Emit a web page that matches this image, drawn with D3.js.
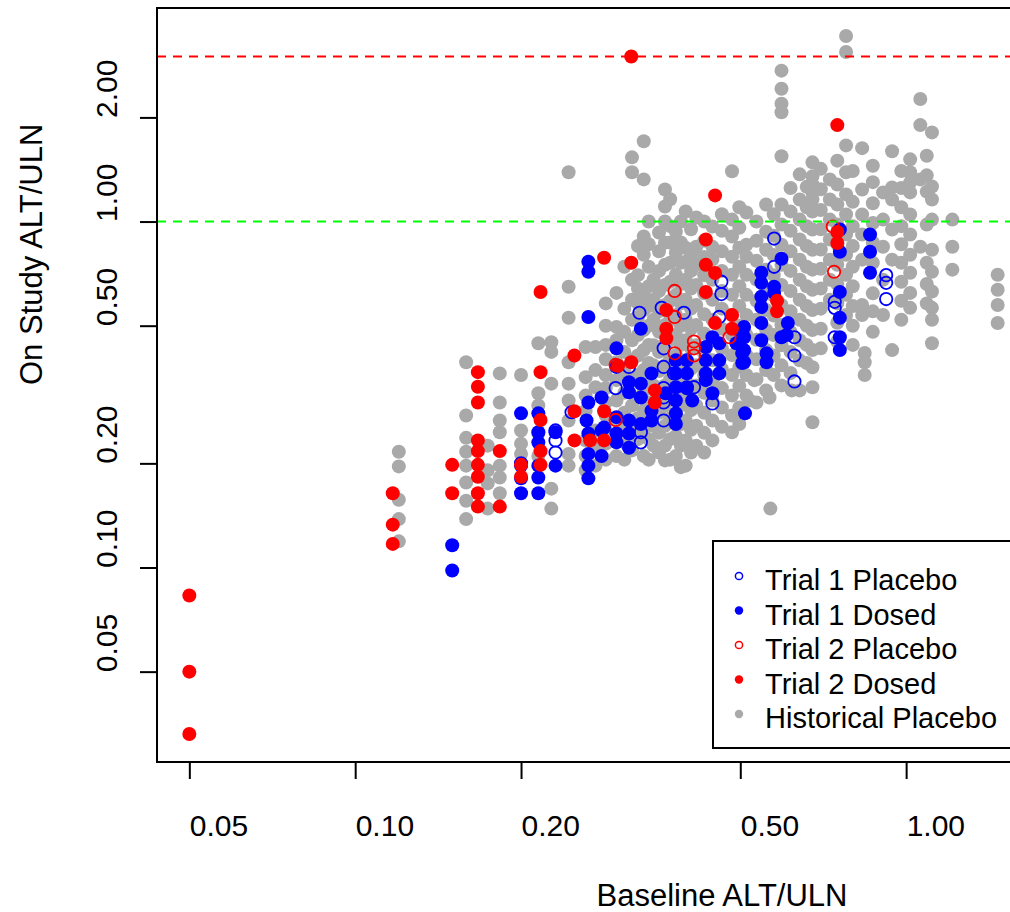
<!DOCTYPE html>
<html>
<head>
<meta charset="utf-8">
<script src="https://cdn.jsdelivr.net/npm/d3@7/dist/d3.min.js"></script>
<style>
  body { margin: 0; background: #fff; }
  svg { display: block; font-family: "Liberation Sans", Arial, sans-serif; }
</style>
</head>
<body>
<svg id="chart" width="1010" height="912"></svg>
<script>
// Historical placebo, read column by column: [baseline, on study]
const historicalPlacebo = [
  [0.12,0.216],[0.12,0.196],[0.12,0.157],[0.12,0.138],[0.12,0.119],
  [0.159,0.392],[0.159,0.275],[0.159,0.237],[0.159,0.216],[0.159,0.197],[0.159,0.176],[0.159,0.156],[0.159,0.138],
  [0.174,0.225],[0.174,0.191],[0.174,0.175],[0.174,0.148],
  [0.183,0.364],[0.183,0.30],[0.183,0.266],[0.183,0.246],[0.183,0.197],[0.183,0.182],[0.183,0.164],
  [0.2,0.36],[0.2,0.249],[0.2,0.228],[0.2,0.213],
  [0.215,0.445],[0.215,0.319],[0.215,0.294],[0.215,0.244],[0.215,0.21],
  [0.227,0.448],[0.227,0.42],[0.227,0.34],[0.227,0.169],[0.227,0.148],
  [0.244,1.388],[0.244,0.648],[0.244,0.527],[0.244,0.392],[0.244,0.34],[0.244,0.304],[0.244,0.266],[0.244,0.213],[0.244,0.197],
  [0.262,0.434],[0.262,0.355],[0.262,0.314],[0.262,0.284],[0.262,0.233],[0.262,0.21],[0.262,0.191],
  [0.273,0.434],[0.273,0.372],[0.273,0.332],[0.273,0.249],[0.273,0.225],[0.273,0.197],
  [0.285,0.58],[0.285,0.50],[0.285,0.44],[0.285,0.40],[0.285,0.36],[0.285,0.33],[0.285,0.30],[0.285,0.275],[0.285,0.25],[0.285,0.228],[0.285,0.205],
  [0.298,0.622],[0.298,0.496],[0.298,0.454],[0.298,0.392],[0.298,0.348],[0.298,0.304],[0.298,0.266],[0.298,0.233],[0.298,0.21],
  [0.308,0.74],[0.308,0.56],[0.308,0.48],[0.308,0.42],[0.308,0.37],[0.308,0.32],[0.308,0.28],[0.308,0.255],[0.308,0.23],[0.308,0.205],
  [0.318,1.533],[0.318,1.388],[0.318,0.679],[0.318,0.594],[0.318,0.52],[0.318,0.454],[0.318,0.397],[0.318,0.348],[0.318,0.294],[0.318,0.249],[0.318,0.218],
  [0.326,0.85],[0.326,0.70],[0.326,0.64],[0.326,0.58],[0.326,0.53],[0.326,0.47],[0.326,0.41],[0.326,0.36],[0.326,0.31],[0.326,0.27],[0.326,0.235],
  [0.334,1.706],[0.334,1.324],[0.334,0.905],[0.334,0.802],[0.334,0.614],[0.334,0.555],[0.334,0.486],[0.334,0.425],[0.334,0.372],[0.334,0.325],[0.334,0.284],[0.334,0.249],[0.334,0.21],
  [0.341,1.0],[0.341,0.86],[0.341,0.74],[0.341,0.65],[0.341,0.57],[0.341,0.50],[0.341,0.44],[0.341,0.39],[0.341,0.345],[0.341,0.30],[0.341,0.265],[0.341,0.235],[0.341,0.205],
  [0.348,0.679],[0.348,0.594],[0.348,0.52],[0.348,0.439],[0.348,0.384],[0.348,0.336],[0.348,0.294],[0.348,0.257],[0.348,0.225],
  [0.356,0.93],[0.356,0.82],[0.356,0.72],[0.356,0.63],[0.356,0.55],[0.356,0.48],[0.356,0.42],[0.356,0.37],[0.356,0.32],[0.356,0.28],[0.356,0.245],[0.356,0.215],
  [0.365,1.238],[0.365,1.105],[0.365,1.0],[0.365,0.869],[0.365,0.75],[0.365,0.656],[0.365,0.574],[0.365,0.502],[0.365,0.439],[0.365,0.384],[0.365,0.336],[0.365,0.294],[0.365,0.257],[0.365,0.225],[0.365,0.204],
  [0.373,1.16],[0.373,0.97],[0.373,0.87],[0.373,0.76],[0.373,0.67],[0.373,0.59],[0.373,0.52],[0.373,0.455],[0.373,0.40],[0.373,0.35],[0.373,0.305],[0.373,0.27],[0.373,0.235],[0.373,0.205],
  [0.382,0.935],[0.382,0.813],[0.382,0.702],[0.382,0.614],[0.382,0.537],[0.382,0.47],[0.382,0.411],[0.382,0.36],[0.382,0.314],[0.382,0.275],[0.382,0.24],[0.382,0.21],
  [0.39,1.0],[0.39,0.87],[0.39,0.76],[0.39,0.66],[0.39,0.58],[0.39,0.50],[0.39,0.44],[0.39,0.385],[0.39,0.34],[0.39,0.295],[0.39,0.26],[0.39,0.225],[0.39,0.195],
  [0.398,1.069],[0.398,0.84],[0.398,0.765],[0.398,0.679],[0.398,0.594],[0.398,0.52],[0.398,0.454],[0.398,0.397],[0.398,0.348],[0.398,0.304],[0.398,0.266],[0.398,0.233],[0.398,0.197],
  [0.407,0.95],[0.407,0.80],[0.407,0.72],[0.407,0.64],[0.407,0.56],[0.407,0.49],[0.407,0.43],[0.407,0.375],[0.407,0.325],[0.407,0.285],[0.407,0.25],[0.407,0.215],
  [0.416,1.027],[0.416,0.846],[0.416,0.75],[0.416,0.656],[0.416,0.574],[0.416,0.502],[0.416,0.439],[0.416,0.384],[0.416,0.336],[0.416,0.294],[0.416,0.257],[0.416,0.225],
  [0.43,1.0],[0.43,0.88],[0.43,0.79],[0.43,0.70],[0.43,0.62],[0.43,0.54],[0.43,0.475],[0.43,0.415],[0.43,0.36],[0.43,0.32],[0.43,0.28],[0.43,0.245],[0.43,0.215],
  [0.445,0.967],[0.445,0.846],[0.445,0.776],[0.445,0.679],[0.445,0.594],[0.445,0.52],[0.445,0.454],[0.445,0.397],[0.445,0.348],[0.445,0.304],[0.445,0.266],[0.445,0.233],
  [0.463,1.05],[0.463,0.94],[0.463,0.82],[0.463,0.72],[0.463,0.63],[0.463,0.56],[0.463,0.49],[0.463,0.43],[0.463,0.375],[0.463,0.33],[0.463,0.29],[0.463,0.255],
  [0.483,1.397],[0.483,1.013],[0.483,0.905],[0.483,0.791],[0.483,0.702],[0.483,0.614],[0.483,0.537],[0.483,0.47],[0.483,0.411],[0.483,0.36],[0.483,0.314],[0.483,0.275],[0.483,0.246],
  [0.498,1.1],[0.498,0.96],[0.498,0.84],[0.498,0.74],[0.498,0.65],[0.498,0.57],[0.498,0.50],[0.498,0.43],[0.498,0.38],[0.498,0.335],[0.498,0.29],[0.498,0.26],
  [0.513,1.062],[0.513,0.857],[0.513,0.791],[0.513,0.702],[0.513,0.614],[0.513,0.537],[0.513,0.47],[0.513,0.411],[0.513,0.36],[0.513,0.314],
  [0.52,0.304],[0.53,0.348],[0.565,0.31],[0.567,0.148],[0.62,0.325],
  [0.535,1.0],[0.535,0.88],[0.535,0.77],[0.535,0.68],[0.535,0.59],[0.535,0.52],[0.535,0.455],[0.535,0.40],[0.535,0.35],[0.535,0.30],
  [0.557,1.12],[0.557,0.935],[0.557,0.829],[0.557,0.726],[0.557,0.635],[0.557,0.555],[0.557,0.486],[0.557,0.425],[0.557,0.372],[0.557,0.325],
  [0.575,1.05],[0.575,0.91],[0.575,0.80],[0.575,0.70],[0.575,0.61],[0.575,0.535],[0.575,0.47],[0.575,0.41],[0.575,0.36],
  [0.594,2.73],[0.594,2.42],[0.594,2.19],[0.594,2.07],[0.594,1.545],[0.594,1.12],[0.594,0.98],[0.594,0.857],[0.594,0.75],[0.594,0.656],[0.594,0.574],[0.594,0.502],[0.594,0.439],[0.594,0.384],[0.594,0.336],
  [0.617,1.25],[0.617,1.07],[0.617,0.94],[0.617,0.82],[0.617,0.72],[0.617,0.63],[0.617,0.55],[0.617,0.48],[0.617,0.42],[0.617,0.365],
  [0.641,1.369],[0.641,1.158],[0.641,1.013],[0.641,0.887],[0.641,0.776],[0.641,0.679],[0.641,0.594],[0.641,0.52],[0.641,0.454],[0.641,0.397],[0.641,0.325],
  [0.66,1.26],[0.66,1.1],[0.66,0.97],[0.66,0.85],[0.66,0.74],[0.66,0.65],[0.66,0.57],[0.66,0.50],[0.66,0.44],[0.66,0.39],
  [0.676,1.483],[0.676,1.351],[0.676,1.28],[0.676,1.214],[0.676,1.158],[0.676,1.069],[0.676,0.948],[0.676,0.829],[0.676,0.726],[0.676,0.635],[0.676,0.555],[0.676,0.486],[0.676,0.425],[0.676,0.379],[0.676,0.332],[0.676,0.263],
  [0.70,1.42],[0.70,1.24],[0.70,1.08],[0.70,0.95],[0.70,0.83],[0.70,0.73],[0.70,0.64],[0.70,0.56],[0.70,0.49],[0.70,0.43],
  [0.727,1.324],[0.727,1.158],[0.727,1.013],[0.727,0.887],[0.727,0.776],[0.727,0.679],[0.727,0.594],
  [0.75,1.5],[0.75,1.28],[0.75,1.12],[0.75,0.98],[0.75,0.86],[0.75,0.75],[0.75,0.66],[0.75,0.58],[0.75,0.51],[0.75,0.45],
  [0.778,3.44],[0.778,3.09],[0.778,1.66],[0.778,1.388],[0.778,1.198],[0.778,1.048],[0.778,0.917],[0.778,0.802],[0.778,0.702],[0.778,0.614],[0.778,0.537],
  [0.80,1.4],[0.80,1.14],[0.80,0.97],[0.80,0.85],[0.80,0.74],[0.80,0.65],[0.80,0.57],[0.80,0.50],[0.80,0.44],
  [0.832,1.63],[0.832,1.238],[0.832,1.048],[0.832,0.917],[0.832,0.776],[0.832,0.574],[0.832,0.537],
  [0.841,0.417],[0.841,0.392],[0.841,0.36],
  [0.87,1.45],[0.87,1.3],[0.87,1.13],[0.87,0.99],[0.87,0.87],[0.87,0.76],[0.87,0.62],[0.87,0.55],[0.87,0.48],
  [0.908,1.214],[0.908,1.013],[0.908,0.846],[0.908,0.679],[0.908,0.537],
  [0.943,1.596],[0.943,1.255],[0.943,1.158],[0.943,0.948],[0.943,0.776],[0.943,0.425],
  [0.98,1.4],[0.98,1.25],[0.98,1.1],[0.98,0.97],[0.98,0.86],[0.98,0.76],[0.98,0.67],[0.98,0.59],[0.98,0.52],
  [1.017,1.513],[1.017,1.388],[1.017,1.297],[1.017,1.214],[1.017,1.048],[1.017,0.917],[1.017,0.802],[1.017,0.711],[1.017,0.622],[1.017,0.563],
  [1.061,2.26],[1.061,1.9],[1.061,1.324],[1.061,0.846],
  [1.09,1.55],[1.09,1.36],[1.09,1.22],[1.09,0.98],[1.09,0.76],[1.09,0.66],[1.09,0.58],
  [1.114,1.81],[1.114,1.263],[1.114,1.158],[1.114,1.013],[1.114,0.829],[1.114,0.716],[1.114,0.628],[1.114,0.563],[1.114,0.52],[1.114,0.445],
  [1.213,1.013],[1.213,0.846],[1.213,0.726],
  [1.466,0.702],[1.466,0.635],[1.466,0.574],[1.466,0.509]
];

const trial1Placebo = [
  [0.2,0.2],[0.231,0.249],[0.231,0.233],[0.231,0.215],[0.247,0.281],[0.297,0.33],[0.314,0.38],
  [0.328,0.545],[0.33,0.246],[0.33,0.23],[0.36,0.563],[0.363,0.43],[0.363,0.38],[0.363,0.33],
  [0.363,0.31],[0.363,0.30],[0.363,0.266],[0.379,0.364],[0.395,0.545],[0.40,0.33],[0.412,0.332],
  [0.445,0.298],[0.458,0.53],[0.462,0.67],[0.462,0.617],[0.576,0.893],[0.576,0.74],[0.627,0.463],
  [0.627,0.41],[0.627,0.345],[0.742,0.586],[0.742,0.563],[0.742,0.463],[0.92,0.70],[0.92,0.665],[0.92,0.597]
];

const trial1Dosed = [
  [0.15,0.116],[0.15,0.098],
  [0.2,0.279],[0.2,0.197],[0.2,0.181],[0.2,0.164],
  [0.215,0.279],[0.215,0.246],[0.215,0.23],[0.215,0.197],[0.215,0.182],[0.215,0.164],
  [0.231,0.246],[0.231,0.197],
  [0.263,0.266],[0.265,0.30],[0.265,0.244],[0.265,0.213],[0.265,0.197],[0.265,0.181],[0.265,0.765],[0.265,0.716],[0.265,0.53],
  [0.28,0.31],[0.28,0.249],[0.28,0.21],[0.283,0.254],
  [0.298,0.43],[0.298,0.38],[0.298,0.272],[0.298,0.244],[0.298,0.23],
  [0.314,0.343],[0.314,0.321],[0.314,0.266],[0.314,0.244],[0.314,0.222],
  [0.33,0.49],[0.33,0.34],[0.33,0.31],[0.33,0.26],
  [0.345,0.364],[0.345,0.284],[0.345,0.266],[0.366,0.319],
  [0.382,0.397],[0.382,0.364],[0.382,0.332],[0.382,0.304],[0.382,0.279],[0.382,0.26],
  [0.40,0.397],[0.40,0.364],[0.40,0.332],[0.409,0.304],
  [0.433,0.434],[0.433,0.397],[0.433,0.364],[0.433,0.348],[0.445,0.463],[0.445,0.319],
  [0.458,0.445],[0.458,0.397],[0.458,0.364],
  [0.492,0.445],[0.504,0.476],[0.504,0.416],[0.504,0.39],[0.508,0.496],[0.508,0.463],[0.508,0.425],[0.508,0.392],[0.51,0.279],
  [0.546,0.711],[0.546,0.665],[0.546,0.606],[0.546,0.566],[0.546,0.509],[0.546,0.454],[0.558,0.416],[0.558,0.392],
  [0.576,0.648],[0.576,0.622],[0.594,0.781],[0.594,0.463],[0.61,0.509],[0.607,0.47],
  [0.758,0.948],[0.758,0.818],[0.758,0.626],[0.758,0.527],[0.758,0.463],[0.758,0.425],
  [0.86,0.917],[0.86,0.818],[0.86,0.711]
];

const trial2Placebo = [
  [0.38,0.63],[0.38,0.53],[0.38,0.416],[0.412,0.45],[0.412,0.43],[0.412,0.41],
  [0.297,0.385],[0.297,0.267],[0.478,0.463],[0.736,0.967],[0.74,0.716]
];

const trial2Dosed = [
  [0.05,0.083],[0.05,0.05],[0.05,0.033],
  [0.117,0.164],[0.117,0.133],[0.117,0.117],
  [0.15,0.198],[0.15,0.164],
  [0.167,0.367],[0.167,0.333],[0.167,0.30],[0.167,0.233],[0.167,0.217],[0.167,0.198],[0.167,0.183],[0.167,0.164],[0.167,0.15],
  [0.183,0.217],[0.183,0.15],
  [0.2,0.198],[0.2,0.183],
  [0.217,0.626],[0.217,0.367],[0.217,0.267],[0.217,0.217],[0.217,0.198],
  [0.25,0.41],[0.25,0.283],[0.25,0.233],[0.267,0.233],
  [0.283,0.786],[0.283,0.283],[0.283,0.233],[0.3,0.383],
  [0.317,3.0],[0.317,0.76],[0.317,0.392],
  [0.35,0.325],[0.35,0.30],
  [0.367,0.555],[0.367,0.49],[0.367,0.46],
  [0.433,0.887],[0.433,0.75],[0.433,0.626],
  [0.45,1.19],[0.45,0.71],[0.45,0.509],
  [0.483,0.537],[0.483,0.49],
  [0.583,0.59],[0.583,0.55],
  [0.75,1.9],[0.75,0.933],[0.75,0.867]
];

const xTicks = [0.05, 0.1, 0.2, 0.5, 1];
const yTicks = [0.05, 0.1, 0.2, 0.5, 1, 2];
const refLines = [{ y: 3, color: "#FF0000" }, { y: 1, color: "#00FF00" }];
const legendNames = ["Trial 1 Placebo", "Trial 1 Dosed", "Trial 2 Placebo", "Trial 2 Dosed", "Historical Placebo"];

const series = [
  { data: historicalPlacebo, color: "#A9A9A9", open: false },
  { data: trial1Placebo, color: "#0000FF", open: true },
  { data: trial1Dosed, color: "#0000FF", open: false },
  { data: trial2Placebo, color: "#FF0000", open: true },
  { data: trial2Dosed, color: "#FF0000", open: false }
];
const legendOrder = [1, 2, 3, 4, 0];

const plotLeft = 157, plotRight = 1030, plotTop = 8, plotBottom = 762;
const svg = d3.select("#chart");

// R style log range: data extent padded by 4% each side
function padLog(ext) {
  const lo = Math.log10(ext[0]), hi = Math.log10(ext[1]);
  const d = (hi - lo) * 0.04;
  return [Math.pow(10, lo - d), Math.pow(10, hi + d)];
}
const all = series.flatMap(s => s.data);
const x = d3.scaleLog().domain(padLog(d3.extent(all, d => d[0]))).range([plotLeft, plotRight]);
const y = d3.scaleLog().domain(padLog(d3.extent(all, d => d[1]))).range([plotBottom, plotTop]);

// points
series.forEach(s => {
  const g = svg.append("g");
  g.selectAll("circle").data(s.data).enter().append("circle")
    .attr("cx", d => x(d[0]))
    .attr("cy", d => y(d[1]))
    .attr("r", s.open ? 6.2 : 7)
    .attr("fill", s.open ? "none" : s.color)
    .attr("stroke", s.open ? s.color : "none")
    .attr("stroke-width", 1.8);
});

// reference lines
svg.selectAll("line.ref").data(refLines).enter().append("line")
  .attr("class", "ref")
  .attr("x1", plotLeft).attr("x2", plotRight)
  .attr("y1", d => y(d.y)).attr("y2", d => y(d.y))
  .attr("stroke", d => d.color)
  .attr("stroke-width", 2)
  .attr("stroke-dasharray", "9,7");

// frame
svg.append("rect")
  .attr("x", plotLeft).attr("y", plotTop)
  .attr("width", plotRight - plotLeft).attr("height", plotBottom - plotTop)
  .attr("fill", "none").attr("stroke", "#000").attr("stroke-width", 2);

// axes
const xAxis = svg.append("g")
  .attr("transform", `translate(0,${plotBottom})`)
  .call(d3.axisBottom(x).tickValues(xTicks).tickFormat(d3.format(".2f")).tickSize(17));
const yAxis = svg.append("g")
  .attr("transform", `translate(${plotLeft},0)`)
  .call(d3.axisLeft(y).tickValues(yTicks).tickFormat(d3.format(".2f")).tickSize(17));

[xAxis, yAxis].forEach(a => {
  a.select(".domain").remove();
  a.selectAll(".tick line").attr("stroke", "#000").attr("stroke-width", 2);
  a.selectAll("text").attr("font-size", 30).attr("fill", "#000")
    .attr("font-family", "Liberation Sans, Arial, sans-serif");
});
xAxis.selectAll("text")
  .attr("y", 74).attr("dy", 0).attr("text-anchor", "start");
yAxis.selectAll("text")
  .attr("x", 0).attr("dy", 0).attr("text-anchor", "start")
  .attr("transform", "translate(-40,0) rotate(-90)");

// axis titles
svg.append("text")
  .attr("x", (plotLeft + plotRight) / 2 + 3).attr("y", 906)
  .attr("font-size", 31).attr("text-anchor", "start")
  .text("Baseline ALT/ULN");
svg.append("text")
  .attr("transform", `translate(42,${(plotTop + plotBottom) / 2}) rotate(-90)`)
  .attr("font-size", 31).attr("text-anchor", "start")
  .text("On Study ALT/ULN");

// legend
const lg = svg.append("g");
lg.append("rect")
  .attr("x", 713).attr("y", 541).attr("width", 340).attr("height", 207)
  .attr("fill", "#fff").attr("stroke", "#000").attr("stroke-width", 2);
legendOrder.forEach((si, i) => {
  const s = series[si];
  const cy = 576 + i * 34.5;
  lg.append("circle")
    .attr("cx", 739).attr("cy", cy)
    .attr("r", s.open ? 3.6 : 4.2)
    .attr("fill", s.open ? "none" : s.color)
    .attr("stroke", s.open ? s.color : "none")
    .attr("stroke-width", 1.5);
  lg.append("text")
    .attr("x", 765).attr("y", cy + 14)
    .attr("font-size", 29)
    .text(legendNames[i]);
});
</script>
</body>
</html>
